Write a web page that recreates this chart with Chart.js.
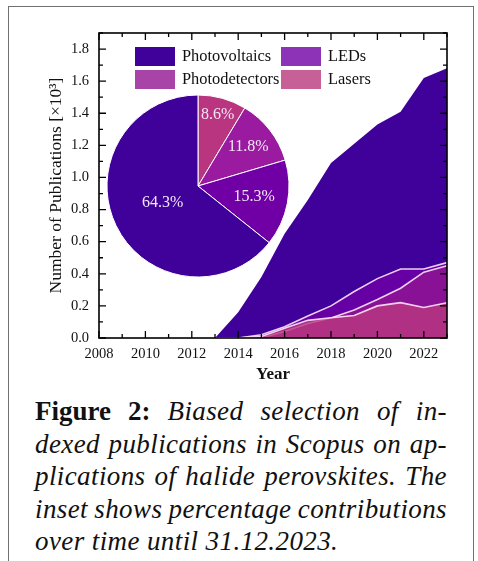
<!DOCTYPE html>
<html>
<head>
<meta charset="utf-8">
<script src="https://cdn.jsdelivr.net/npm/chart.js@4.4.1/dist/chart.umd.min.js"></script>
<style>
  html, body { margin: 0; padding: 0; background: #fff; width: 478px; height: 561px; overflow: hidden; }
  #frame { position: absolute; left: 8px; top: 6px; width: 466px; height: 620px; border: 1.5px solid #707070; box-sizing: border-box; }
  #main { position: absolute; left: 0; top: 0; }
  #inset { position: absolute; left: 98px; top: 86px; }
  #caption { position: absolute; left: 35px; top: 395px; width: 412px; font-family: 'Liberation Serif', serif; font-size: 27px; color: #111; }
  .line { display: flex; justify-content: space-between; height: 32.5px; line-height: 32.5px; white-space: nowrap; }
  .line.last { display: block; }
  .it { font-style: italic; letter-spacing: 0.4px; }
  .bf { font-weight: bold; }
</style>
</head>
<body>
<div id="frame"></div>
<canvas id="main" width="478" height="390"></canvas>
<canvas id="inset" width="200" height="200"></canvas>
<div id="caption">
  <div class="line"><span class="bf">Figure</span><span class="bf">2:</span><span class="it">Biased</span><span class="it">selection</span><span class="it">of</span><span class="it">in-</span></div>
  <div class="line"><span class="it">dexed</span><span class="it">publications</span><span class="it">in</span><span class="it">Scopus</span><span class="it">on</span><span class="it">ap-</span></div>
  <div class="line"><span class="it">plications</span><span class="it">of</span><span class="it">halide</span><span class="it">perovskites.</span><span class="it">The</span></div>
  <div class="line"><span class="it">inset</span><span class="it">shows</span><span class="it">percentage</span><span class="it">contributions</span></div>
  <div class="line last"><span class="it">over time until 31.12.2023.</span></div>
</div>
<script>
// Publications per year (thousands)
const years = [2013, 2014, 2015, 2016, 2017, 2018, 2019, 2020, 2021, 2022, 2023];
const photovoltaics  = [0, 0.16, 0.38, 0.65, 0.86, 1.09, 1.21, 1.33, 1.41, 1.62, 1.68];
const leds           = [0, 0, 0.02, 0.07, 0.137, 0.20, 0.29, 0.37, 0.43, 0.43, 0.47];
const photodetectors = [0, 0, 0, 0.04, 0.09, 0.125, 0.175, 0.24, 0.31, 0.41, 0.45];
const lasers         = [0, 0, 0.01, 0.06, 0.11, 0.126, 0.14, 0.20, 0.22, 0.19, 0.22];
const seriesNames = ['Photovoltaics', 'LEDs', 'Photodetectors', 'Lasers'];

// Axis ticks
const xTickYears = [2008, 2010, 2012, 2014, 2016, 2018, 2020, 2022];
const yTickValues = [0, 0.2, 0.4, 0.6, 0.8, 1.0, 1.2, 1.4, 1.6, 1.8];

// Inset: share of all publications up to 31.12.2023 (%)
const pieLabels = ['Lasers', 'Photodetectors', 'LEDs', 'Photovoltaics'];
const pieShares = [8.6, 11.8, 15.3, 64.3];

const SERIF = "'Liberation Serif', 'Times New Roman', serif";

const fills = ['#40009a', 'rgba(111,0,166,0.8)', 'rgba(146,21,146,0.8)', 'rgba(186,56,126,0.8)'];
const edge = 'rgba(250,226,250,0.92)';
const seriesValues = [photovoltaics, leds, photodetectors, lasers];

const datasets = seriesValues.map((vals, i) => ({
  label: seriesNames[i],
  data: vals.map((v, k) => ({ x: years[k], y: v })),
  backgroundColor: fills[i],
  borderColor: i === 0 ? 'rgba(0,0,0,0)' : edge,
  borderWidth: i === 0 ? 0 : 1.6,
  fill: 'origin',
  pointRadius: 0,
  tension: 0,
  order: 4 - i
}));

// Inward tick marks on all four sides plus the plot frame
const frameTicks = {
  id: 'frameTicks',
  afterDatasetsDraw(chart) {
    const { ctx, chartArea: a, scales: { x, y } } = chart;
    ctx.save();
    ctx.strokeStyle = '#000';
    ctx.lineWidth = 1.3;
    ctx.beginPath();
    for (let v = 2008; v <= 2023; v++) {
      const px = x.getPixelForValue(v);
      const len = (v % 2 === 0) ? 7 : 4;
      ctx.moveTo(px, a.bottom); ctx.lineTo(px, a.bottom - len);
      ctx.moveTo(px, a.top); ctx.lineTo(px, a.top + len);
    }
    for (let k = 0; k <= 19; k++) {
      const py = y.getPixelForValue(k / 10);
      const len = (k % 2 === 0) ? 7 : 4;
      ctx.moveTo(a.left, py); ctx.lineTo(a.left + len, py);
      ctx.moveTo(a.right, py); ctx.lineTo(a.right - len, py);
    }
    ctx.stroke();
    ctx.lineWidth = 1.6;
    ctx.strokeRect(a.left, a.top, a.right - a.left, a.bottom - a.top);
    ctx.restore();
  }
};

// Two-column legend placed inside the plot area
const insideLegend = {
  id: 'insideLegend',
  afterDraw(chart) {
    const { ctx, chartArea: a } = chart;
    ctx.save();
    ctx.font = '16.4px ' + SERIF;
    ctx.textBaseline = 'middle';
    chart.data.datasets.forEach((ds, i) => {
      const col = i % 2, row = Math.floor(i / 2);
      const bx = a.left + 36 + col * 146;
      const by = a.top + 14 + row * 23;
      ctx.fillStyle = '#fff';
      ctx.fillRect(bx, by, 40, 19);
      ctx.fillStyle = ds.backgroundColor;
      ctx.fillRect(bx, by, 40, 19);
      ctx.fillStyle = '#111';
      ctx.fillText(ds.label, bx + 47, by + 10);
    });
    ctx.restore();
  }
};

new Chart(document.getElementById('main'), {
  type: 'line',
  data: { datasets },
  options: {
    responsive: false,
    animation: false,
    layout: { padding: { left: 0, right: 31, top: 33, bottom: 0 } },
    plugins: { legend: { display: false }, tooltip: { enabled: false } },
    scales: {
      x: {
        type: 'linear', min: 2008, max: 2023,
        grid: { display: false, drawTicks: false },
        border: { display: false },
        afterBuildTicks: s => { s.ticks = xTickYears.map(v => ({ value: v })); },
        afterFit: s => { s.height = 52; },
        ticks: { font: { family: SERIF, size: 14.5 }, color: '#111', padding: 7, maxRotation: 0, autoSkip: false, callback: v => String(v) },
        title: { display: true, text: 'Year', font: { family: SERIF, size: 17, weight: 'bold' }, color: '#111', padding: { top: 0, bottom: 5 } }
      },
      y: {
        type: 'linear', min: 0, max: 1.9,
        grid: { display: false, drawTicks: false },
        border: { display: false },
        afterBuildTicks: s => { s.ticks = yTickValues.map(v => ({ value: v })); },
        afterFit: s => { s.width = 99; },
        ticks: { font: { family: SERIF, size: 14.5 }, color: '#111', padding: 10, autoSkip: false, callback: v => Number(v).toFixed(1) },
        title: { display: true, text: 'Number of Publications [×10³]', font: { family: SERIF, size: 17.5 }, color: '#111', padding: { top: 46, bottom: 0 } }
      }
    }
  },
  plugins: [frameTicks, insideLegend]
});

// Percentage labels inside the slices
const labelRadius = [0.81, 0.70, 0.63, 0.43];
const pieText = {
  id: 'pieText',
  afterDatasetsDraw(chart) {
    const { ctx } = chart;
    const arcs = chart.getDatasetMeta(0).data;
    ctx.save();
    ctx.font = '16px ' + SERIF;
    ctx.fillStyle = '#f4e8f6';
    ctx.textAlign = 'center';
    ctx.textBaseline = 'middle';
    arcs.forEach((arc, i) => {
      const p = arc.getProps(['x', 'y', 'startAngle', 'endAngle', 'outerRadius'], true);
      const mid = (p.startAngle + p.endAngle) / 2;
      const r = p.outerRadius * labelRadius[i];
      const val = chart.data.datasets[0].data[i];
      ctx.fillText(val.toFixed(1) + '%', p.x + Math.cos(mid) * r, p.y + Math.sin(mid) * r);
    });
    ctx.restore();
  }
};

new Chart(document.getElementById('inset'), {
  type: 'pie',
  data: {
    labels: pieLabels,
    datasets: [{
      data: pieShares,
      backgroundColor: ['#b9357f', '#9a1b9f', '#7000a6', '#40009a'],
      borderColor: '#ffffff',
      borderWidth: 1
    }]
  },
  options: {
    responsive: false,
    animation: false,
    radius: 91,
    layout: { padding: 0 },
    plugins: { legend: { display: false }, tooltip: { enabled: false } }
  },
  plugins: [pieText]
});
</script>
</body>
</html>
